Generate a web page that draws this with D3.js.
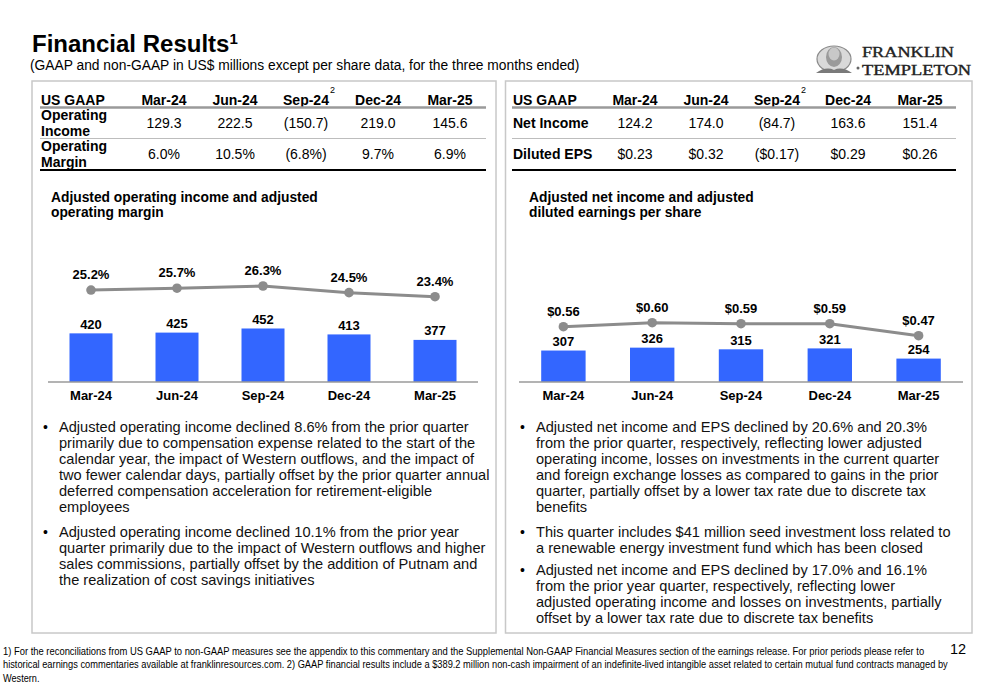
<!DOCTYPE html>
<html>
<head>
<meta charset="utf-8">
<script src="https://cdn.jsdelivr.net/npm/d3@7"></script>
<style>
  html, body { margin: 0; padding: 0; background: #fff; }
  svg { display: block; font-family: "Liberation Sans", Arial, sans-serif; }
</style>
</head>
<body>
<svg id="chart" width="1000" height="685"></svg>
<script>
// ---------------- DATA ----------------
const periods = ["Mar-24", "Jun-24", "Sep-24", "Dec-24", "Mar-25"];
const gaapOperatingIncome = [129.3, 222.5, -150.7, 219.0, 145.6];
const gaapOperatingMargin = [6.0, 10.5, -6.8, 9.7, 6.9];
const gaapNetIncome = [124.2, 174.0, -84.7, 163.6, 151.4];
const gaapDilutedEPS = [0.23, 0.32, -0.17, 0.29, 0.26];
const adjOperatingIncome = [420, 425, 452, 413, 377];
const adjOperatingMargin = [25.2, 25.7, 26.3, 24.5, 23.4];
const adjNetIncome = [307, 326, 315, 321, 254];
const adjDilutedEPS = [0.56, 0.60, 0.59, 0.59, 0.47];

const leftBullets = [
  ["Adjusted operating income declined 8.6% from the prior quarter",
   "primarily due to compensation expense related to the start of the",
   "calendar year, the impact of Western outflows, and the impact of",
   "two fewer calendar days, partially offset by the prior quarter annual",
   "deferred compensation acceleration for retirement-eligible",
   "employees"],
  ["Adjusted operating income declined 10.1% from the prior year",
   "quarter primarily due to the impact of Western outflows and higher",
   "sales commissions, partially offset by the addition of Putnam and",
   "the realization of cost savings initiatives"]
];
const rightBullets = [
  ["Adjusted net income and EPS declined by 20.6% and 20.3%",
   "from the prior quarter, respectively, reflecting lower adjusted",
   "operating income, losses on investments in the current quarter",
   "and foreign exchange losses as compared to gains in the prior",
   "quarter, partially offset by a lower tax rate due to discrete tax",
   "benefits"],
  ["This quarter includes $41 million seed investment loss related to",
   "a renewable energy investment fund which has been closed"],
  ["Adjusted net income and EPS declined by 17.0% and 16.1%",
   "from the prior year quarter, respectively, reflecting lower",
   "adjusted operating income and losses on investments, partially",
   "offset by a lower tax rate due to discrete tax benefits"]
];
const footnoteLines = [
  "1) For the reconciliations from US GAAP to non-GAAP measures see the appendix to this commentary and the Supplemental Non-GAAP Financial Measures section of the earnings release. For prior periods please refer to",
  "historical earnings commentaries available at franklinresources.com. 2) GAAP financial results include a $389.2 million non-cash impairment of an indefinite-lived intangible asset related to certain mutual fund contracts managed by",
  "Western."
];

// ---------------- HELPERS ----------------
const svg = d3.select("#chart");
const BLUE = "#3366ff";
const GRAY_LINE = "#8c8c8c";
const paren = (s, neg) => neg ? "(" + s + ")" : s;
const fmtNum = v => paren(Math.abs(v).toFixed(1), v < 0);
const fmtPct = v => paren(Math.abs(v).toFixed(1) + "%", v < 0);
const fmtUsd = v => paren("$" + Math.abs(v).toFixed(2), v < 0);

// ---------------- HEADER ----------------
const title = svg.append("text").attr("x", 32).attr("y", 52)
  .attr("font-size", 24).attr("font-weight", "bold").attr("fill", "#000");
title.append("tspan").text("Financial Results");
title.append("tspan").attr("font-size", 15).attr("dy", -8).text("1");
svg.append("text").attr("x", 30).attr("y", 69.5).attr("font-size", 13.8).attr("fill", "#000")
  .text("(GAAP and non-GAAP in US$ millions except per share data, for the three months ended)");

// Logo
const logo = svg.append("g");
logo.append("ellipse").attr("cx", 834).attr("cy", 59).attr("rx", 17).attr("ry", 13)
  .attr("fill", "#d9d9d9").attr("stroke", "#8a8a8a").attr("stroke-width", 1.2);
logo.append("ellipse").attr("cx", 834).attr("cy", 57).attr("rx", 8).attr("ry", 10)
  .attr("fill", "#9a9a9a");
logo.append("ellipse").attr("cx", 834).attr("cy", 54).attr("rx", 5.5).attr("ry", 6.5)
  .attr("fill", "#c8c8c8");
logo.append("path").attr("d", "M816,73 Q826,66 834,70 Q842,66 852,73 Z").attr("fill", "#7a7a7a");
logo.append("circle").attr("cx", 858).attr("cy", 68).attr("r", 1.5).attr("fill", "#666");
logo.append("text").attr("x", 862).attr("y", 57).attr("font-family", "'Liberation Serif', 'DejaVu Serif', serif")
  .attr("font-size", 15.5).attr("fill", "#222").attr("stroke", "#222").attr("stroke-width", 0.4)
  .attr("textLength", 92).attr("lengthAdjust", "spacingAndGlyphs")
  .text("FRANKLIN");
logo.append("text").attr("x", 862).attr("y", 74.5).attr("font-family", "'Liberation Serif', 'DejaVu Serif', serif")
  .attr("font-size", 15.5).attr("fill", "#222").attr("stroke", "#222").attr("stroke-width", 0.4)
  .attr("textLength", 109).attr("lengthAdjust", "spacingAndGlyphs")
  .text("TEMPLETON");

// ---------------- PANELS ----------------
const panels = [
  { x0: 32, x1: 496, labelX: 41, lineX0: 40, lineX1: 486,
    colX: [164, 235, 306, 378, 450],
    rows: [
      { label: ["Operating", "Income"], vals: gaapOperatingIncome.map(fmtNum) },
      { label: ["Operating", "Margin"], vals: gaapOperatingMargin.map(fmtPct) }
    ],
    chartTitle: ["Adjusted operating income and adjusted", "operating margin"], titleX: 51,
    axis: [48, 478], bars: adjOperatingIncome, line: adjOperatingMargin,
    lineDomain: [20, 30], lineRange: [309.3, 272.3], lineFmt: v => v.toFixed(1) + "%",
    bullets: leftBullets, bulletX: 43, textX: 59, bulletStarts: [432, 537] },
  { x0: 505.5, x1: 972, labelX: 513, lineX0: 512, lineX1: 956,
    colX: [635, 706, 777, 848, 920],
    rows: [
      { label: ["Net Income"], vals: gaapNetIncome.map(fmtNum) },
      { label: ["Diluted EPS"], vals: gaapDilutedEPS.map(fmtUsd) }
    ],
    chartTitle: ["Adjusted net income and adjusted", "diluted earnings per share"], titleX: 529,
    axis: [519, 963], bars: adjNetIncome, line: adjDilutedEPS,
    lineDomain: [0.4, 0.7], lineRange: [342.7, 312.7], lineFmt: v => "$" + v.toFixed(2),
    bullets: rightBullets, bulletX: 520, textX: 536, bulletStarts: [432, 537, 575] }
];

const yBar = d3.scaleLinear().domain([100, 500]).range([382, 321.2]);

panels.forEach(p => {
  const g = svg.append("g");
  // border box
  g.append("rect").attr("x", p.x0).attr("y", 81).attr("width", p.x1 - p.x0).attr("height", 552)
    .attr("fill", "none").attr("stroke", "#c8c8c8").attr("stroke-width", 1.5);

  // ----- table -----
  g.append("text").attr("x", p.labelX).attr("y", 104.5).attr("font-size", 14).attr("font-weight", "bold")
    .text("US GAAP");
  periods.forEach((per, i) => {
    g.append("text").attr("x", p.colX[i]).attr("y", 104.5).attr("font-size", 14)
      .attr("font-weight", "bold").attr("text-anchor", "middle").text(per);
    if (per === "Sep-24") {
      g.append("text").attr("x", p.colX[i] + 24).attr("y", 93).attr("font-size", 9).text("2");
    }
  });
  g.append("line").attr("x1", p.lineX0).attr("x2", p.lineX1).attr("y1", 107.5).attr("y2", 107.5)
    .attr("stroke", "#9a9a9a").attr("stroke-width", 2.5);
  const rowCenters = [123, 154];
  p.rows.forEach((r, ri) => {
    const cy = rowCenters[ri];
    if (r.label.length === 2) {
      g.append("text").attr("x", p.labelX).attr("y", cy - 3).attr("font-size", 14).attr("font-weight", "bold").text(r.label[0]);
      g.append("text").attr("x", p.labelX).attr("y", cy + 12.5).attr("font-size", 14).attr("font-weight", "bold").text(r.label[1]);
    } else {
      g.append("text").attr("x", p.labelX).attr("y", cy + 5).attr("font-size", 14).attr("font-weight", "bold").text(r.label[0]);
    }
    r.vals.forEach((v, i) => {
      g.append("text").attr("x", p.colX[i]).attr("y", cy + 5).attr("font-size", 14)
        .attr("text-anchor", "middle").text(v);
    });
  });
  g.append("line").attr("x1", p.lineX0).attr("x2", p.lineX1).attr("y1", 138.5).attr("y2", 138.5)
    .attr("stroke", "#bdbdbd").attr("stroke-width", 1);
  g.append("line").attr("x1", p.lineX0).attr("x2", p.lineX1).attr("y1", 170).attr("y2", 170)
    .attr("stroke", "#000").attr("stroke-width", 2);

  // ----- chart -----
  g.append("text").attr("x", p.titleX).attr("y", 201.5).attr("font-size", 13.8).attr("font-weight", "bold").text(p.chartTitle[0]);
  g.append("text").attr("x", p.titleX).attr("y", 217).attr("font-size", 13.8).attr("font-weight", "bold").text(p.chartTitle[1]);

  const x = d3.scaleBand().domain(periods).range(p.axis).paddingInner(0.5).paddingOuter(0.25);
  const yLine = d3.scaleLinear().domain(p.lineDomain).range(p.lineRange);

  g.selectAll("rect.bar").data(p.bars).enter().append("rect").attr("class", "bar")
    .attr("x", (d, i) => x(periods[i])).attr("width", x.bandwidth())
    .attr("y", d => yBar(d)).attr("height", d => yBar.range()[0] - yBar(d))
    .attr("fill", BLUE);
  g.selectAll("text.barlab").data(p.bars).enter().append("text").attr("class", "barlab")
    .attr("x", (d, i) => x(periods[i]) + x.bandwidth() / 2).attr("y", d => yBar(d) - 4.5)
    .attr("text-anchor", "middle").attr("font-size", 13).attr("font-weight", "bold").text(d => d);

  // axis
  const axis = d3.axisBottom(x).tickSize(0).tickPadding(9);
  const ag = g.append("g").attr("transform", `translate(0,${yBar.range()[0]})`).call(axis);
  ag.select(".domain").attr("stroke", "#9a9a9a").attr("stroke-width", 1.5)
    .attr("d", `M${p.axis[0]},0H${p.axis[1]}`);
  ag.selectAll("text").attr("font-size", 13).attr("font-weight", "bold").attr("fill", "#000")
    .attr("font-family", "'Liberation Sans', Arial, sans-serif");

  // line
  const lineGen = d3.line().x((d, i) => x(periods[i]) + x.bandwidth() / 2).y(d => yLine(d));
  g.append("path").datum(p.line).attr("d", lineGen).attr("fill", "none")
    .attr("stroke", GRAY_LINE).attr("stroke-width", 3);
  g.selectAll("circle.pt").data(p.line).enter().append("circle").attr("class", "pt")
    .attr("cx", (d, i) => x(periods[i]) + x.bandwidth() / 2).attr("cy", d => yLine(d))
    .attr("r", 4.8).attr("fill", GRAY_LINE);
  g.selectAll("text.linelab").data(p.line).enter().append("text").attr("class", "linelab")
    .attr("x", (d, i) => x(periods[i]) + x.bandwidth() / 2).attr("y", d => yLine(d) - 11)
    .attr("text-anchor", "middle").attr("font-size", 13).attr("font-weight", "bold").text(p.lineFmt);

  // ----- bullets -----
  p.bullets.forEach((lines, bi) => {
    const y0 = p.bulletStarts[bi];
    g.append("text").attr("x", p.bulletX).attr("y", y0).attr("font-size", 14).text("•");
    lines.forEach((ln, li) => {
      g.append("text").attr("x", p.textX).attr("y", y0 + li * 16).attr("font-size", 14.6)
        .attr("fill", "#111").text(ln);
    });
  });
});

// ---------------- FOOTNOTE ----------------
// condensed look: scale each line horizontally to its target width
const fnWidths = [922, 944, null];
footnoteLines.forEach((ln, i) => {
  const y = 655 + i * 13.3;
  const t = svg.append("text").attr("x", 0).attr("y", 0).attr("font-size", 10.2)
    .attr("fill", "#000").text(ln);
  const natural = t.node().getComputedTextLength();
  const sx = fnWidths[i] ? Math.min(1, fnWidths[i] / natural) : 0.9;
  t.attr("transform", `translate(3,${y}) scale(${sx},1)`);
});
svg.append("text").attr("x", 950).attr("y", 654).attr("font-size", 14.5).text("12");
</script>
</body>
</html>
